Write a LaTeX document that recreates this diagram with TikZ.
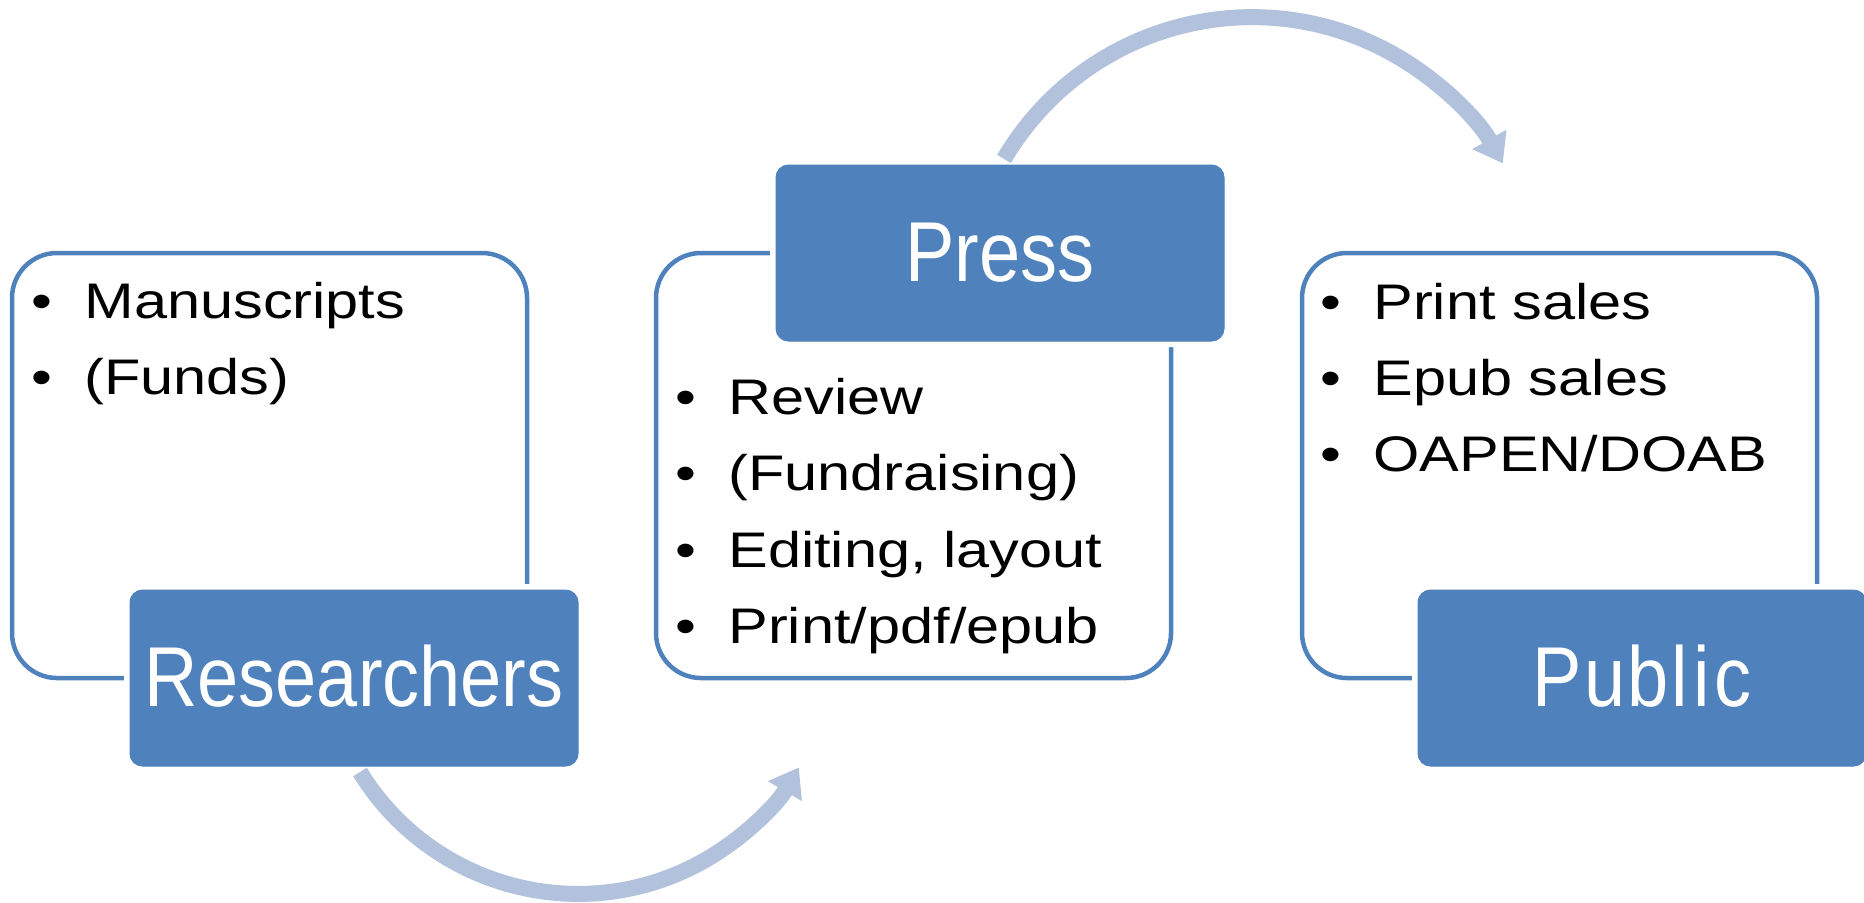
\documentclass[tikz,border=0pt]{standalone}
\usepackage{fontspec}
\setmainfont{Liberation Sans}
\newfontfamily\headfont[FakeStretch=0.87]{Liberation Sans}
\newfontfamily\listfont[FakeStretch=1.19]{Liberation Sans}
\usetikzlibrary{arrows.meta,positioning,calc}
\definecolor{accent}{HTML}{4F81BD}
\definecolor{flow}{HTML}{B2C2DD}
\tikzset{
  panel/.style={draw=accent,line width=1.8pt,rounded corners=18pt,minimum width=206pt,minimum height=170pt,inner sep=0pt,outer sep=0pt},
  stage/.style={fill=accent,draw=accent,line width=0.4pt,rounded corners=5pt,minimum width=179.2pt,minimum height=70.4pt,inner sep=0pt,outer sep=0pt,
    text=white,font=\headfont\fontsize{34}{40}\selectfont,preaction={draw=white,line width=4.8pt}},
  item/.style={anchor=base west,inner sep=0pt,font=\listfont\fontsize{20}{24}\selectfont},
  cycle/.style={draw=flow,line width=6.4pt,-{Triangle[width=15pt,length=11pt]}},
}
\newcommand{\bul}[1]{\makebox[21.2pt][l]{\textbullet}#1}

\begin{document}
\begin{tikzpicture}[x=0.4pt,y=-0.4pt]
\useasboundingbox (0,0) rectangle (1864,902);

% outline panels
\node[panel,anchor=north west] (resbg) at (12,253) {};
\node[panel,right=51.6pt of resbg] (pressbg) {};
\node[panel,right=52.4pt of pressbg] (pubbg) {};

% stage boxes
\node[stage,anchor=north west] (res) at ($(resbg.south west)+(118,-88)$) {\raisebox{2pt}{Researchers}};
\node[stage,anchor=north west] (press) at ($(pressbg.north west)+(120,-88)$) {\raisebox{1pt}{Press}};
\node[stage,anchor=north west] (pub) at ($(pubbg.south west)+(116,-88)$) {\raisebox{2pt}{P\kern1pt u\kern1pt b\kern1pt l\kern2pt i\kern2pt c}};

% bullet lists
\foreach \t [count=\i] in {Manuscripts,(Funds)}
  \node[item] (res-\i) at ($(resbg.north west)+(19,{65+76*(\i-1)})$) {\bul{\t}};
\foreach \t [count=\i] in {Review,(Fundraising),{Editing, layout},Print/pdf/epub}
  \node[item] (press-\i) at ($(pressbg.north west)+(19,{161+76.5*(\i-1)})$) {\bul{\t}};
\foreach \t [count=\i] in {Print sales,Epub sales,OAPEN/DOAB}
  \node[item] (pub-\i) at ($(pubbg.north west)+(18,{66+76*(\i-1)})$) {\bul{\t}};

% cycle arrows
\coordinate (c1) at ($(res.south west)+(230,6)$);
\coordinate (c2) at ($(press.north west)+(228,-6)$);
\draw[cycle] (c1) arc[start angle=148.4,end angle=30.4,radius=256];
\draw[cycle] (c2) arc[start angle=210.5,end angle=330.5,radius=288];

\end{tikzpicture}
\end{document}
